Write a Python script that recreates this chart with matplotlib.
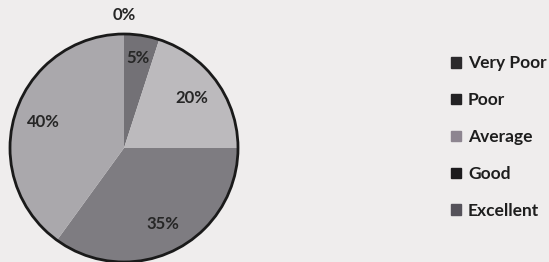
import matplotlib
matplotlib.use("Agg")
import matplotlib.pyplot as plt
import numpy as np
from matplotlib.patches import Circle, Patch

categories = ["Very Poor", "Poor", "Average", "Good", "Excellent"]
values = [0, 5, 20, 35, 40]
slice_colors = ["#3a3a3c", "#737176", "#bcbabd", "#7e7c81", "#aaa8ac"]
legend_colors = ["#2b2a2c", "#232224", "#8d8590", "#1c1b1d", "#55525a"]
label_dist = [1.17, 0.8, 0.74, 0.75, 0.74]

plt.rcParams["font.family"] = ["Lato", "DejaVu Sans"]

fig = plt.figure(figsize=(5.49, 2.62), dpi=100)
fig.patch.set_facecolor("#efeded")

ax = fig.add_axes([10/549, 0.0, 228/549, 228/262])
wedges, _ = ax.pie(values, colors=slice_colors, startangle=90, counterclock=False,
                   radius=1, wedgeprops=dict(edgecolor="none", linewidth=0))
for w in wedges:
    w.set_clip_on(False)
ax.add_patch(Circle((0, 0), 1, fill=False, edgecolor="#1a1a1a", linewidth=2, clip_on=False))
ax.set_xlim(-1, 1)
ax.set_ylim(-1, 1)
ax.set_aspect("equal")
ax.axis("off")

for w, v, d in zip(wedges, values, label_dist):
    ang = np.deg2rad((w.theta1 + w.theta2) / 2)
    ax.text(d * np.cos(ang), d * np.sin(ang), f"{v}%", ha="center", va="center",
            fontsize=12, fontweight="bold", color="#262626", clip_on=False)

handles = [Patch(facecolor=c, edgecolor=c) for c in legend_colors]
fig.legend(handles, categories, loc="upper left", bbox_to_anchor=(448/549, 1 - 52/262),
           frameon=False, handlelength=0.55, handleheight=0.55, handletextpad=0.4,
           labelspacing=1.2, prop=dict(size=12.5, weight="bold"), labelcolor="#1e1e1e",
           borderaxespad=0, borderpad=0.2)

fig.savefig("out.png", dpi=100, facecolor=fig.get_facecolor())
